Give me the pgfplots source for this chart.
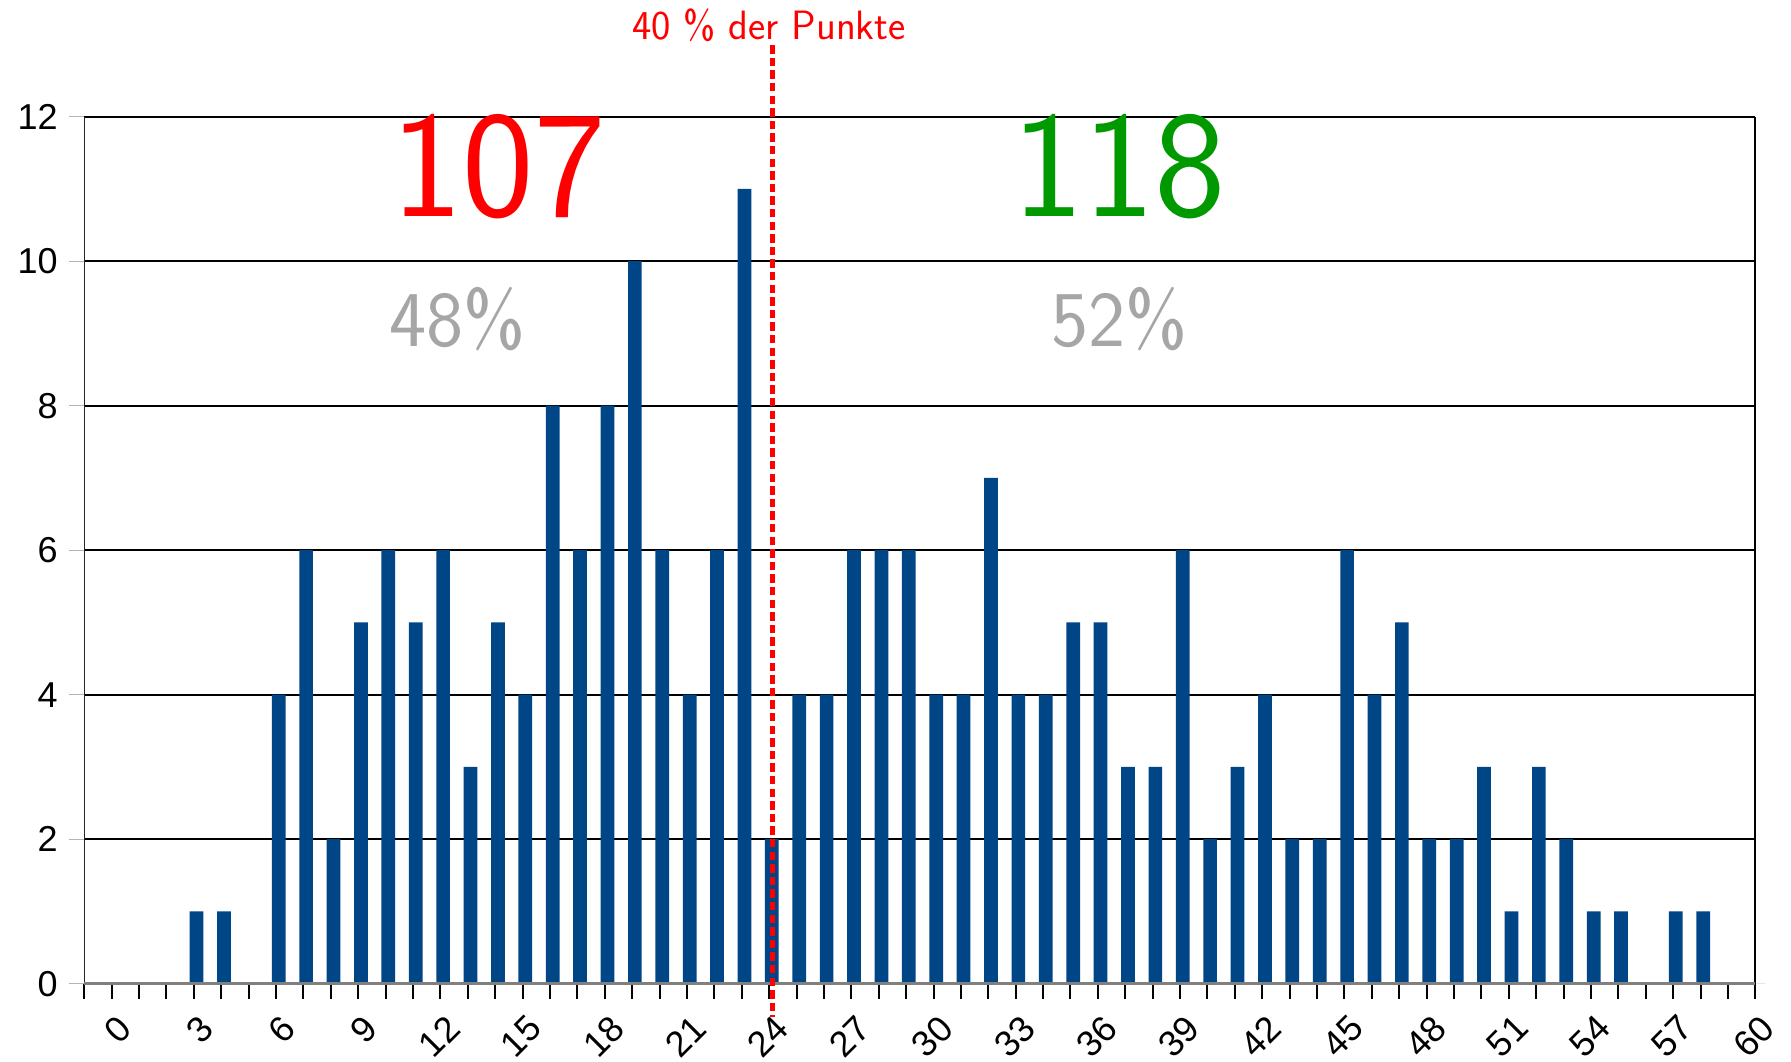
\documentclass[border=0pt]{standalone}
\usepackage{fontspec}
\setmainfont{Liberation Sans}
\usepackage{pgfplots}
\pgfplotsset{compat=1.18}
\definecolor{barblue}{HTML}{004586}
\definecolor{lgreen}{RGB}{0,153,0}
\definecolor{pctgray}{RGB}{166,166,166}
\definecolor{axgray}{RGB}{128,128,128}
\definecolor{tickgray}{RGB}{180,180,180}
\pgfplotstableread{
x y
0 0
1 0
2 0
3 1
4 1
5 0
6 4
7 6
8 2
9 5
10 6
11 5
12 6
13 3
14 5
15 4
16 8
17 6
18 8
19 10
20 6
21 4
22 6
23 11
24 2
25 4
26 4
27 6
28 6
29 6
30 4
31 4
32 7
33 4
34 4
35 5
36 5
37 3
38 3
39 6
40 2
41 3
42 4
43 2
44 2
45 6
46 4
47 5
48 2
49 2
50 3
51 1
52 3
53 2
54 1
55 1
56 0
57 1
58 1
59 0
60 0
}\histdata
\begin{document}
\begin{tikzpicture}
\useasboundingbox (-42.15pt,-38.65pt) rectangle (853.35pt,491.85pt);
\begin{axis}[
  at={(0,0)}, anchor=south west,
  scale only axis, width=835.5pt, height=433.5pt,
  xmin=-1, xmax=60, ymin=0, ymax=12,
  clip=false,
  axis line style={draw=none},
  ymajorgrids, grid style={black, line width=1.1pt},
  ytick={0,2,...,12},
  xtick={-1,0,...,60},
  xticklabels={{},0,{},{},3,{},{},6,{},{},9,{},{},12,{},{},15,{},{},18,{},{},21,{},{},24,{},{},27,{},{},30,{},{},33,{},{},36,{},{},39,{},{},42,{},{},45,{},{},48,{},{},51,{},{},54,{},{},57,{},{},60},
  tick align=outside,
  tick pos=left,
  major tick length=7.5pt,
  xtick style={black, line width=1pt},
  ytick style={tickgray, line width=0.6pt},
  tick label style={font=\fontsize{18}{18}\selectfont},
  /pgf/number format/assume math mode=true,
  xticklabel style={xshift=2pt, yshift=-7pt, rotate=45, anchor=north east, inner sep=0pt},
  yticklabel style={anchor=east, inner sep=0pt, xshift=-5.6pt},
]
\addplot[ybar, bar width=0.5, bar shift=1.35pt, fill=barblue, draw=none] table[x=x, y=y] {\histdata};
\draw[black!85, line width=0.6pt] (axis cs:-1,0) -- (axis cs:-1,12);
\draw[black, line width=1.1pt] (axis cs:60,0) -- (axis cs:60,12);
\draw[axgray, line width=1.35pt] (axis cs:-1,0) -- (axis cs:60,0);
\addplot[red, line width=2.65pt, dash pattern=on 4.2pt off 2.1pt, forget plot] coordinates {(24.13,12.99) (24.13,-0.46)};
\node[font=\sffamily\fontsize{76}{76}\selectfont, text=red, inner sep=0pt] at (axis cs:14.12,11.31) {107};
\node[font=\sffamily\fontsize{76}{76}\selectfont, text=lgreen, inner sep=0pt] at (axis cs:36.78,11.31) {118};
\node[font=\sffamily\fontsize{39.5}{39.5}\selectfont, text=pctgray, inner sep=0pt] at (axis cs:12.63,9.2) {48\%};
\node[font=\sffamily\fontsize{39.5}{39.5}\selectfont, text=pctgray, inner sep=0pt] at (axis cs:36.8,9.2) {52\%};
\node[font=\sffamily\fontsize{20.5}{20.5}\selectfont, text=red, inner sep=0pt] at (axis cs:24.0,13.27) {40 \% der Punkte};
\end{axis}
\end{tikzpicture}
\end{document}
